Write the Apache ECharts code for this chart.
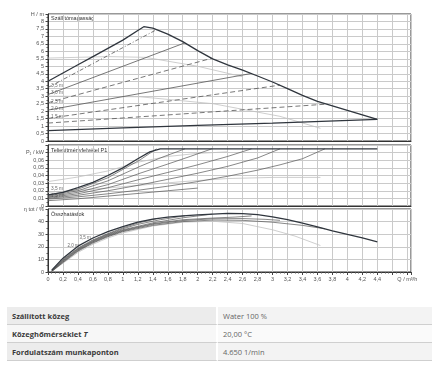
<!DOCTYPE html>
<html><head><meta charset="utf-8">
<script src="https://cdn.jsdelivr.net/npm/echarts@6/dist/echarts.min.js"></script>
<style>
html,body{margin:0;padding:0;background:#fff;width:440px;height:371px;overflow:hidden;}
#chart{position:absolute;left:0;top:0;width:440px;height:300px;}
#tbl{position:absolute;left:7px;top:307px;width:425px;border-collapse:separate;border-spacing:0;font-family:'Open Sans',sans-serif;font-size:7.5px;}
#tbl td{height:17px;padding:0 0 0 5px;border-bottom:1px solid #cfcfcf;vertical-align:middle;white-space:nowrap;}
#tbl td.k{width:204px;font-weight:bold;color:#3a3a3a;border-right:2px solid #fff;}
#tbl td.v{color:#666;}
#tbl tr.a td.k{background:#ececec;} #tbl tr.a td.v{background:#f3f3f3;}
#tbl tr.b td.k{background:#f7f7f7;} #tbl tr.b td.v{background:#fafafa;}
</style></head>
<body>
<div id="chart"></div>
<table id="tbl"></table>
<script>
// ---------- data ----------
// Head H (m) vs flow Q (m3/h)
const hMax = [[0,4.0],[0.2,4.55],[0.4,5.1],[0.6,5.65],[0.8,6.2],[1.0,6.75],[1.2,7.4],[1.28,7.65],[1.4,7.55],[1.6,7.15],[1.8,6.65],[2.0,6.05],[2.2,5.5],[2.4,5.1],[2.6,4.75],[2.8,4.35],[3.0,3.95],[3.2,3.5],[3.4,3.05],[3.6,2.65],[3.8,2.35],[4.0,2.05],[4.2,1.75],[4.4,1.45]];
const hMin = [[0,0.7],[1.0,0.88],[2.0,1.05],[3.0,1.2],[4.4,1.45]];
const hL1 = [[0,3.58],[1.45,7.45]];
const hL2 = [[0,3.11],[1.83,6.57]];
const hL3 = [[0,2.56],[2.19,5.54]];
const hL4 = [[0,2.07],[2.72,4.52]];
const hL5 = [[0,1.51],[3.1,3.74]];
const hL6 = [[0,1.2],[3.7,2.46]];
const hG1 = [[0,5.55],[0.8,5.65],[1.3,5.6],[2.0,5.0],[2.6,4.3]];
const hG2 = [[0,3.0],[1.23,2.96],[2.2,2.5],[3.1,1.65],[3.64,0.85]];
const hLabels = ['3,5 m','3,0 m','2,5 m','2,0 m','1,5 m'];

// Power P1 (kW)
const pMax = [[0,0.0145],[0.2,0.018],[0.4,0.024],[0.6,0.031],[0.8,0.04],[1.0,0.05],[1.2,0.062],[1.36,0.071],[1.5,0.075],[4.4,0.075]];
const pL1 = [[0,0.014],[0.4,0.022],[0.8,0.037],[1.23,0.0605],[1.45,0.075]];
const pL2 = [[0,0.013],[0.4,0.02],[0.8,0.033],[1.23,0.052],[1.5,0.063],[1.83,0.075]];
const pL3 = [[0,0.012],[0.4,0.018],[0.8,0.028],[1.23,0.043],[1.6,0.055],[1.9,0.065],[2.19,0.075]];
const pL4 = [[0,0.011],[0.4,0.016],[0.8,0.024],[1.23,0.035],[1.6,0.044],[2.0,0.054],[2.4,0.065],[2.72,0.075]];
const pL5 = [[0,0.010],[0.4,0.014],[0.8,0.02],[1.23,0.0276],[1.6,0.035],[2.0,0.043],[2.4,0.052],[2.8,0.063],[3.1,0.075]];
const pL6 = [[0,0.009],[0.4,0.012],[0.8,0.016],[1.23,0.021],[1.6,0.026],[2.0,0.032],[2.4,0.039],[2.8,0.047],[3.1,0.054],[3.4,0.062],[3.7,0.075]];
const pMin = [[0,0.007],[0.4,0.0095],[0.8,0.013],[1.23,0.0167],[1.6,0.02],[2.0,0.0235]];
const pG1 = [[0,0.032],[0.4,0.038],[0.8,0.046],[1.23,0.058],[1.6,0.065],[2.0,0.069],[2.4,0.071]];
const pG2 = [[0,0.018],[0.6,0.022],[1.2,0.027],[1.8,0.032],[2.4,0.036],[3.0,0.0375],[3.64,0.0375]];
const pLabels = ['3,5 m','1,5 m'];
const pLabelPts = [[0,0.021],[0,0.011]];

// Efficiency eta tot (%)
const eMax = [[0.05,1.5],[0.2,11],[0.4,20.5],[0.6,27],[0.8,32],[1.0,36],[1.2,39.5],[1.4,42],[1.6,43.5],[1.8,44.5],[2.0,45.3],[2.2,46],[2.4,46.5],[2.6,46.3],[2.8,45.5],[3.0,43.8],[3.2,41.5],[3.4,38.7],[3.6,35.8],[3.8,32.7],[4.0,29.8],[4.2,27],[4.4,24]];
const eL1 = [[0.05,1],[0.2,10],[0.4,19],[0.6,25.5],[0.8,30.5],[1.0,35],[1.2,38.8],[1.45,42.3]];
const eL2 = [[0.05,1],[0.2,9.5],[0.4,18.5],[0.6,25],[0.8,30],[1.0,34.3],[1.2,37.8],[1.5,41.5],[1.83,44.6]];
const eL3 = [[0.05,0.8],[0.2,9],[0.4,18],[0.6,24.5],[0.8,29.5],[1.0,33.5],[1.4,39],[1.8,43],[2.19,45.9]];
const eL4 = [[0.05,0.6],[0.2,8.5],[0.4,17.5],[0.6,24],[0.8,29],[1.0,33],[1.4,38.3],[1.8,41.5],[2.2,42.8],[2.5,43.6],[2.72,44.5]];
const eL5 = [[0.05,0.5],[0.2,8],[0.4,17],[0.6,23.5],[0.8,28.5],[1.0,32.5],[1.4,37.8],[1.8,40.8],[2.2,42.2],[2.6,42.4],[2.9,41.8],[3.1,41]];
const eL6 = [[0.05,0.5],[0.2,7.5],[0.4,16.5],[0.6,23],[0.8,28],[1.0,32],[1.4,37],[1.8,40],[2.2,41.2],[2.6,41],[3.0,39.5],[3.4,37],[3.7,34.3]];
const eG1 = [[0.05,0.3],[0.2,7],[0.4,15.5],[0.6,22],[0.8,27],[1.0,31],[1.4,36.5],[1.8,39.5],[2.2,40.3],[2.6,38.5],[3.0,33.5],[3.3,28.5],[3.64,21]];
const eLabels = ['2,0 m','3,5 m'];
const eLabelPts = [[0.22,20],[0.38,26]];

// Panel titles and axis names
const panelTitles = ['Szállítómagasság','Teljesítményfelvétel P1','Összhatásfok'];
const unitH = 'H / m', unitP = 'P₁ / kW', unitE = 'η tot / %', unitQ = 'Q / m³/h';

// Table
const tableKeys = ['Szállított közeg','Közeghőmérséklet <i>T</i>','Fordulatszám munkaponton'];
const tableVals = ['Water 100 %','20,00 °C','4.650 1/min'];

// ---------- table ----------
document.getElementById('tbl').innerHTML = tableKeys.map((k,i)=>
  '<tr class="'+(i%2===0?'a':'b')+'"><td class="k">'+k+'</td><td class="v">'+tableVals[i]+'</td></tr>').join('');

// ---------- chart ----------
const FONT = 'Liberation Sans';
const fmt = v => String(parseFloat(v.toFixed(3))).replace('.', ',');
const DARK = '#30363e', THIN = '#555', GRAY = '#c2c2c2';
const GRID_LINE = {show:true, lineStyle:{color:'#cacaca', width:1}};
const grids = [
  {left:48, top:14, width:363, height:127},
  {left:48, top:145, width:363, height:61},
  {left:48, top:209, width:363, height:63}
].map(g => Object.assign(g, {show:true, borderColor:'#333', borderWidth:1, backgroundColor:'transparent'}));

function xAx(i){
  const bottom = i === 2;
  return {type:'value', gridIndex:i, min:0, max:4.85, interval:0.2,
    axisLine:{show:true, lineStyle:{color:'#333'}},
    axisTick:{show:bottom, length:3, lineStyle:{color:'#444'}},
    minorTick:{show:bottom, splitNumber:4, length:1.5, lineStyle:{color:'#555'}},
    splitLine:GRID_LINE,
    axisLabel:{show:bottom, fontSize:5.5, color:'#555', fontFamily:FONT, margin:4, showMaxLabel:true,
      formatter:v=>{
        if (Math.abs(v*5 - Math.round(v*5)) > 1e-6) return '';
        if (Math.abs(v-4.8) < 1e-6) return unitQ;
        if (v > 4.5) return '';
        return fmt(v);
      }}};
}
function yAx(i, max, interval, unit, skip){
  return {type:'value', gridIndex:i, min:0, max:max, interval:interval,
    axisLine:{show:true, lineStyle:{color:'#333'}},
    axisTick:{show:true, length:2.5, lineStyle:{color:'#444'}},
    minorTick:{show:true, splitNumber:2, length:1.5, lineStyle:{color:'#555'}},
    splitLine:GRID_LINE,
    axisLabel:{fontSize:5.5, color:'#555', fontFamily:FONT, margin:4,
      formatter:v=>{
        if (Math.abs(v-unit.at) < 1e-9) return unit.text;
        if (skip && skip.some(s=>Math.abs(v-s)<1e-9)) return '';
        return fmt(v);
      }}};
}

function ln(data, gi, color, width, type, z){
  return {type:'line', xAxisIndex:gi, yAxisIndex:gi, data:data, symbol:'none', silent:true,
    animation:false, z:z||2, lineStyle:{color:color, width:width, type:type||'solid'}};
}
function labels(texts, pts, gi, fs){
  return {type:'scatter', xAxisIndex:gi, yAxisIndex:gi, symbolSize:0, silent:true, animation:false, z:5,
    data:pts.map((p,i)=>({value:p, label:{show:true, formatter:texts[i]}})),
    label:{position:'right', distance:3, offset:[0,-1.5], fontSize:fs, color:'#444', fontFamily:FONT}};
}

const DASHDOT = [4,2,1,2], DASH = [5,3];
const series = [
  // head
  ln(hG1,0,GRAY,0.8), ln(hG2,0,GRAY,0.8),
  ln(hL1,0,THIN,0.8,DASHDOT), ln(hL2,0,THIN,0.8), ln(hL3,0,THIN,0.8,DASH),
  ln(hL4,0,THIN,0.8), ln(hL5,0,THIN,0.8,DASH), ln(hL6,0,THIN,0.8,DASH),
  ln(hMin,0,DARK,1.3,'solid',3), ln(hMax,0,DARK,1.3,'solid',3),
  labels(hLabels, [hL1[0],hL2[0],hL3[0],hL4[0],hL5[0]], 0, 4.8),
  // power
  ln(pG1,1,GRAY,0.8), ln(pG2,1,GRAY,0.8),
  ln(pL1,1,THIN,0.7), ln(pL2,1,THIN,0.7), ln(pL3,1,THIN,0.7),
  ln(pL4,1,THIN,0.7), ln(pL5,1,THIN,0.7), ln(pL6,1,THIN,0.7), ln(pMin,1,THIN,0.7),
  ln(pMax,1,DARK,1.3,'solid',3),
  labels(pLabels, pLabelPts, 1, 4.8),
  // efficiency
  ln(eG1,2,GRAY,0.8),
  ln(eL1,2,THIN,0.7), ln(eL2,2,THIN,0.7), ln(eL3,2,THIN,0.7),
  ln(eL4,2,THIN,0.7), ln(eL5,2,THIN,0.7), ln(eL6,2,THIN,0.7),
  ln(eMax,2,DARK,1.3,'solid',3),
  labels(eLabels, eLabelPts, 2, 4.5)
];

const chart = echarts.init(document.getElementById('chart'), null, {renderer:'canvas'});
chart.setOption({
  animation:false,
  backgroundColor:'#fff',
  textStyle:{fontFamily:FONT},
  grid:grids,
  xAxis:[xAx(0), xAx(1), xAx(2)],
  yAxis:[
    yAx(0, 8.5, 0.5, {at:8.5, text:unitH}),
    yAx(1, 0.08, 0.01, {at:0.07, text:unitP}, [0.08]),
    yAx(2, 50, 10, {at:50, text:unitE})
  ],
  graphic:[
    {type:'text', left:51, top:15, silent:true, style:{text:panelTitles[0], fontSize:5.5, fill:'#333', fontFamily:FONT}},
    {type:'text', left:51, top:147, silent:true, style:{text:panelTitles[1], fontSize:5.5, fill:'#333', fontFamily:FONT}},
    {type:'text', left:51, top:211, silent:true, style:{text:panelTitles[2], fontSize:5.5, fill:'#333', fontFamily:FONT}}
  ],
  series:series
});
</script>
</body></html>
